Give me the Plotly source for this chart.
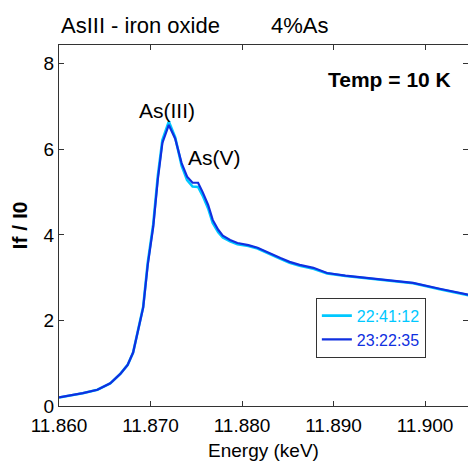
import plotly.graph_objects as go

# Energy (keV)
energy = [11.8600, 11.8612, 11.8626, 11.8642, 11.8656, 11.8667, 11.8675, 11.8681,
          11.8686, 11.8692, 11.8697, 11.8703, 11.8708, 11.8713, 11.8720, 11.8727,
          11.8734, 11.8740, 11.8746, 11.8752, 11.8757, 11.8763, 11.8768, 11.8774,
          11.8779, 11.8787, 11.8795, 11.8807, 11.8817, 11.8831, 11.8842, 11.8852,
          11.8863, 11.8878, 11.8893, 11.8913, 11.8937, 11.8962, 11.8987, 11.9016,
          11.9050]

# If / I0 for scan 22:41:12 (cyan)
if_2241 = [0.20, 0.24, 0.30, 0.38, 0.53, 0.75, 0.96, 1.25,
           1.73, 2.32, 3.35, 4.25, 5.38, 6.22, 6.65, 6.28,
           5.62, 5.28, 5.13, 5.12, 4.92, 4.62, 4.28, 4.06,
           3.94, 3.85, 3.78, 3.74, 3.68, 3.54, 3.44, 3.35,
           3.28, 3.21, 3.10, 3.04, 2.99, 2.93, 2.87, 2.73,
           2.58]

# If / I0 for scan 23:22:35 (blue)
if_2322 = [0.20, 0.24, 0.30, 0.38, 0.53, 0.75, 0.96, 1.25,
           1.73, 2.30, 3.30, 4.19, 5.30, 6.15, 6.57, 6.25,
           5.68, 5.36, 5.22, 5.22, 5.00, 4.70, 4.35, 4.12,
           3.98, 3.88, 3.81, 3.76, 3.70, 3.56, 3.46, 3.37,
           3.30, 3.23, 3.11, 3.05, 3.00, 2.94, 2.88, 2.74,
           2.59]

x_ticks = [11.860, 11.870, 11.880, 11.890, 11.900]
y_ticks = [0, 2, 4, 6, 8]

CYAN = "#00C8FF"
BLUE = "#1030E0"
FONT = "Liberation Sans, Arial, Helvetica, sans-serif"

fig = go.Figure()
fig.add_trace(go.Scatter(
    x=energy, y=if_2241, mode="lines",
    line=dict(color=CYAN, width=2.6),
    name=f"<span style='color:{CYAN}'>22:41:12</span>"))
fig.add_trace(go.Scatter(
    x=energy, y=if_2322, mode="lines",
    line=dict(color=BLUE, width=2.2),
    name=f"<span style='color:{BLUE}'>23:22:35</span>"))

axis_common = dict(
    showline=True, linecolor="#333333", linewidth=1, mirror="ticks",
    ticks="inside", ticklen=5, tickcolor="#333333", showgrid=False,
    zeroline=False, automargin=False,
    tickfont=dict(family=FONT, size=19, color="black"),
)

fig.update_layout(
    width=468, height=464,
    margin=dict(l=59, r=0, t=45, b=58, autoexpand=False),
    paper_bgcolor="white", plot_bgcolor="white",
    font=dict(family=FONT, color="black"),
    xaxis=dict(range=[11.860, 11.9047], tickvals=x_ticks,
               ticktext=[f"{v:.3f}" for v in x_ticks],
               ticklabelstandoff=2,
               title=dict(text="Energy (keV)", font=dict(size=19), standoff=8),
               **axis_common),
    yaxis=dict(range=[0, 8.44], tickvals=y_ticks,
               title=dict(text="<b>If / I0</b>", font=dict(size=21), standoff=10),
               **axis_common),
    showlegend=True,
    legend=dict(x=0.628, y=0.30, xanchor="left", yanchor="top",
                bordercolor="#333333", borderwidth=1, bgcolor="white",
                font=dict(family=FONT, size=16), itemwidth=30,
                tracegroupgap=0),
)

fig.add_annotation(text="AsIII - iron oxide", x=0, y=1.055, xref="paper", yref="paper",
                   xanchor="left", yanchor="middle", showarrow=False,
                   font=dict(family=FONT, size=22, color="black"))
fig.add_annotation(text="4%As", x=0.513, y=1.055, xref="paper", yref="paper",
                   xanchor="left", yanchor="middle", showarrow=False,
                   font=dict(family=FONT, size=22, color="black"))
fig.add_annotation(text="<b>Temp = 10 K</b>", x=0.809, y=0.905, xref="paper", yref="paper",
                   xanchor="center", yanchor="middle", showarrow=False,
                   font=dict(family=FONT, size=21, color="black"))
fig.add_annotation(text="As(III)", x=11.87175, y=6.92, xref="x", yref="y",
                   xanchor="center", yanchor="middle", showarrow=False,
                   font=dict(family=FONT, size=21, color="black"))
fig.add_annotation(text="As(V)", x=11.8770, y=5.80, xref="x", yref="y",
                   xanchor="center", yanchor="middle", showarrow=False,
                   font=dict(family=FONT, size=21, color="black"))

fig.write_html("out.html",
               config={"displayModeBar": False},
               post_script="document.body.style.margin='0';document.body.style.overflow='hidden';")
